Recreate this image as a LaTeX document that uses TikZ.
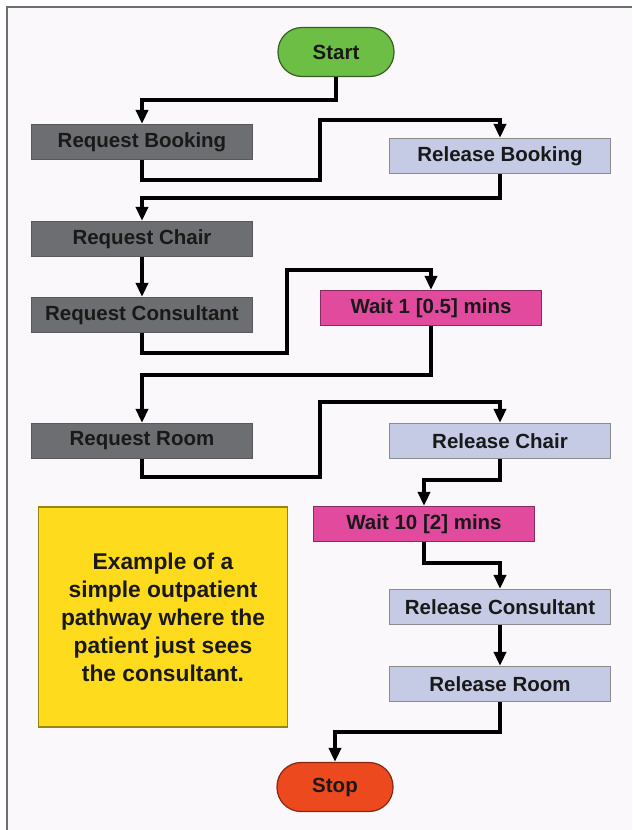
\documentclass[tikz,border=0pt]{standalone}
\usepackage{fontspec}
\setmainfont{Liberation Sans}
\usetikzlibrary{arrows.meta}

\definecolor{pagebg}{HTML}{FBF8FC}
\definecolor{framegray}{HTML}{6E6E6E}
\definecolor{startgreen}{HTML}{6DBE45}
\definecolor{stopred}{HTML}{EC4A1E}
\definecolor{reqgray}{HTML}{6D6E71}
\definecolor{relblue}{HTML}{C5CBE5}
\definecolor{waitpink}{HTML}{E24A9E}
\definecolor{noteyellow}{HTML}{FFDB1E}

\tikzset{
	boxfont/.style={font=\fontsize{20.5}{24}\selectfont\bfseries, text=black!90},
	termbox/.style={boxfont, draw, line width=1.2pt, rounded corners=24pt, minimum width=116pt, minimum height=49pt, inner sep=0pt},
	reqbox/.style={boxfont, draw=black!65, fill=reqgray, line width=1.2pt, minimum width=221pt, minimum height=35pt, inner sep=0pt},
	relbox/.style={boxfont, draw=black!45, fill=relblue, line width=1.2pt, minimum width=221pt, minimum height=35pt, inner sep=0pt},
	waitbox/.style={boxfont, draw=waitpink!60!black, fill=waitpink, line width=1.2pt, minimum width=221pt, minimum height=35pt, inner sep=0pt},
	conn/.style={line width=3.5pt, -{Triangle[width=12pt,length=14pt]}}
}

\begin{document}
\begin{tikzpicture}[x=1pt,y=-1pt]
		\useasboundingbox (0,0) rectangle (632,830);
		\fill[white] (0,0) rectangle (632,830);
		\fill[pagebg] (6.5,6.5) rectangle (632,830);
		\draw[framegray, line width=2pt] (6.5,830) -- (6.5,6.5) -- (632,6.5);
		
		% terminals
		\node (start) at (336,52) [termbox, draw=startgreen!50!black, fill=startgreen] {Start};
		\node (stop) at (335,787) [termbox, draw=stopred!55!black, fill=stopred] {Stop};
		
		% left column
		\node (reqbook) at (142,142) [reqbox] {Request Booking};
		\node (reqchair) at (142,239) [reqbox] {Request Chair};
		\node (reqcons) at (142,315) [reqbox] {Request Consultant};
		\node (reqroom) at (142,441) [reqbox] {Request Room};
		
		% right column
		\node (relbook) at (500,156) [relbox] {Release Booking};
		\node (wait1) at (431,308) [waitbox] {Wait 1 [0.5] mins};
		\node (relchair) at (500,441) [relbox] {Release Chair};
		\node (wait10) at (424,524) [waitbox] {Wait 10 [2] mins};
		\node (relcons) at (500,607) [relbox] {Release Consultant};
		\node (relroom) at (500,684) [relbox] {Release Room};
		
		\node (note) at (163,617) [draw=noteyellow!60!black, fill=noteyellow, line width=1.2pt, minimum width=249pt, minimum height=220pt, inner sep=0pt, align=center, font=\fontsize{22.8}{28}\selectfont\bfseries, text=black!90] {Example of a\\simple outpatient\\pathway where the\\patient just sees\\the consultant.};
		
		% connectors
		\draw[conn] (start.south) -- ++(0,23) -| (reqbook.north);
		\draw[conn] (reqbook.south) -- ++(0,20) -| (320,120) -| (relbook.north);
		\draw[conn] (relbook.south) -- ++(0,24) -| (reqchair.north);
		\draw[conn] (reqchair) -- (reqcons);
		\draw[conn] (reqcons.south) -- ++(0,20) -| (287,270) -| (wait1.north);
		\draw[conn] (wait1.south) -- ++(0,49) -| (reqroom.north);
		\draw[conn] (reqroom.south) -- ++(0,18) -| (320,402) -| (relchair.north);
		\draw[conn] (relchair.south) -- ++(0,21) -| (wait10.north);
		\draw[conn] (wait10.south) -- ++(0,21) -| (relcons.north);
		\draw[conn] (relcons) -- (relroom);
		\draw[conn] (relroom.south) -- ++(0,30) -| (stop.north);
\end{tikzpicture}
\end{document}
